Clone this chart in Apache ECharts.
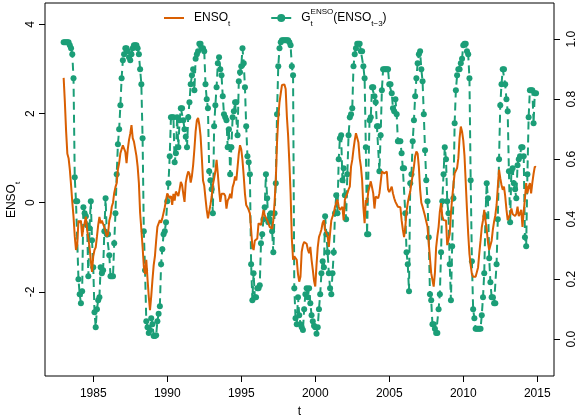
<!DOCTYPE html>
<html>
<head>
<meta charset="utf-8">
<script src="https://cdn.jsdelivr.net/npm/echarts@6/dist/echarts.min.js"></script>
<style>
  html, body { margin: 0; padding: 0; background: #fff; }
  #chart { width: 579px; height: 419px; }
</style>
</head>
<body>
<div id="chart"></div>
<script>
// monthly values, Jan 1983 .. Dec 2014
const startYear = 1983;

// ENSO_t
const enso_1983_1990 = [
  2.80, 2.25, 1.60, 1.10, 1.00, 0.75, 0.40, 0.02, -0.31, -0.75, -1.06, -0.95,
  -0.40, -0.45, -0.40, -0.76, -0.55, -0.46, -0.31, -0.60, -0.80, -1.00, -1.30, -1.55,
  -1.20, -1.06, -1.00, -0.76, -0.50, -0.32, -0.46, -0.40, -0.40, -0.55, -0.65, -0.76,
  -0.70, -0.40, -0.30, -0.09, 0.00, 0.22, 0.35, 0.44, 0.75, 0.89, 1.11, 1.20,
  1.29, 1.25, 1.14, 0.89, 1.20, 1.41, 1.55, 1.74, 1.45, 1.37, 1.33, 1.05,
  0.81, 0.44, -0.23, -0.60, -0.99, -1.43, -1.60, -1.28, -1.71, -2.10, -2.41, -2.10,
  -1.73, -1.40, -1.20, -0.85, -0.54, -0.50, -0.39, -0.45, -0.35, -0.32, -0.10, 0.06,
  0.21, 0.25, 0.10, 0.15, -0.05, 0.20, 0.05, 0.25, 0.20, 0.15, 0.30, 0.47
];
const enso_1991_1998 = [
  0.40, 0.20, 0.02, 0.45, 0.60, 0.70, 0.65, 0.45, 0.60, 0.85, 1.20, 1.60,
  1.85, 1.90, 1.75, 1.50, 1.03, 0.50, 0.38, 0.10, -0.16, -0.35, -0.20, -0.05,
  0.14, 0.40, 0.55, 0.70, 0.96, 0.65, 0.30, 0.02, 0.20, 0.20, 0.20, 0.15,
  -0.13, 0.05, 0.10, 0.20, 0.10, 0.35, 0.44, 0.59, 0.50, 0.80, 1.10, 1.29,
  1.20, 0.95, 0.60, 0.20, -0.05, -0.10, -0.16, -0.24, -0.60, -0.99, -1.06, -0.85,
  -0.85, -0.80, -0.46, -0.42, -0.50, -0.54, -0.16, -0.28, -0.30, -0.39, -0.46, -0.54,
  -0.56, -0.58, -0.39, 0.00, 0.50, 1.35, 1.90, 2.25, 2.45, 2.64, 2.68, 2.65,
  2.55, 1.93, 1.50, 0.90, 0.20, -0.80, -1.28, -1.20, -1.22, -1.28, -1.60, -1.77
];
const enso_1999_2006 = [
  -1.66, -1.10, -0.95, -0.88, -0.88, -0.92, -1.05, -1.13, -0.99, -1.28, -1.50, -1.75,
  -1.88, -1.40, -1.00, -0.77, -0.69, -0.60, -0.45, -0.39, -0.62, -0.66, -0.75, -0.99,
  -0.69, -0.40, -0.31, -0.24, -0.09, 0.00, 0.07, -0.09, -0.16, -0.12, -0.09, -0.39,
  0.07, 0.15, 0.21, 0.30, 0.36, 0.81, 0.96, 1.20, 1.40, 1.56, 1.60, 1.35,
  1.00, 0.81, 0.51, -0.10, -0.46, 0.06, 0.00, 0.25, 0.36, 0.48, 0.35, 0.21,
  -0.13, 0.14, 0.14, 0.10, 0.21, 0.45, 0.70, 0.74, 0.66, 0.66, 0.70, 0.30,
  0.24, 0.28, 0.36, 0.21, 0.10, 0.02, 0.06, -0.09, -0.05, -0.10, -0.39, -0.60,
  -0.77, -0.54, -0.20, 0.00, 0.14, 0.25, 0.45, 0.62, 0.81, 1.05, 1.15, 1.10
];
const enso_2007_2014 = [
  0.80, 0.30, 0.00, -0.09, -0.13, -0.30, -0.42, -0.54, -0.90, -1.25, -1.58, -1.60,
  -1.88, -1.58, -1.00, -0.75, -0.54, -0.20, -0.01, -0.30, -0.39, -0.42, -0.40, -0.95,
  -0.95, -0.70, -0.23, 0.10, 0.40, 0.66, 0.70, 0.78, 1.00, 1.45, 1.71, 1.60,
  1.40, 1.05, 0.45, -0.15, -0.70, -1.15, -1.40, -1.60, -1.66, -1.64, -1.66, -1.62,
  -1.45, -1.13, -0.85, -0.55, -0.39, -0.16, -0.40, -0.60, -0.88, -1.06, -1.06, -0.85,
  -0.60, -0.42, -0.28, -0.05, 0.35, 0.74, 0.55, 0.40, 0.29, 0.36, 0.15, -0.15,
  -0.39, -0.39, -0.25, -0.13, -0.25, -0.28, -0.30, -0.25, -0.09, -0.30, -0.25, -0.16,
  -0.54, -0.20, 0.10, 0.44, 0.21, 0.35, 0.44, 0.21, 0.45, 0.65, 0.81, 0.80
];

// G_t^ENSO(ENSO_{t-3})
const g_1983_1990 = [
  0.99, 0.99, 0.99, 0.99, 0.99, 0.98, 0.97, 0.95, 0.87, 0.54, 0.46, 0.46,
  0.20, 0.15, 0.12, 0.16, 0.44, 0.42, 0.41, 0.38, 0.21, 0.37, 0.46, 0.33,
  0.24, 0.09, 0.04, 0.10, 0.13, 0.14, 0.24, 0.22, 0.23, 0.36, 0.47, 0.35,
  0.35, 0.28, 0.21, 0.21, 0.21, 0.32, 0.42, 0.55, 0.65, 0.70, 0.78, 0.87,
  0.93, 0.95, 0.97, 0.97, 0.96, 0.94, 0.93, 0.95, 0.97, 0.98, 0.98, 0.98,
  0.97, 0.95, 0.90, 0.85, 0.67, 0.36, 0.23, 0.06, 0.04, 0.02, 0.03, 0.07,
  0.05, 0.01, 0.01, 0.013, 0.06, 0.085, 0.11, 0.25, 0.30, 0.35, 0.36, 0.39,
  0.46, 0.52, 0.61, 0.74, 0.74, 0.74, 0.59, 0.62, 0.74, 0.64, 0.73, 0.77
];
const g_1991_1998 = [
  0.77, 0.73, 0.70, 0.675, 0.64, 0.74, 0.79, 0.85, 0.88, 0.90, 0.83, 0.935,
  0.95, 0.96, 0.985, 0.985, 0.97, 0.97, 0.96, 0.85, 0.80, 0.77, 0.56, 0.53,
  0.50, 0.42, 0.71, 0.78, 0.84, 0.92, 0.94, 0.90, 0.88, 0.81, 0.75, 0.74,
  0.73, 0.64, 0.70, 0.55, 0.64, 0.74, 0.76, 0.79, 0.79, 0.68, 0.86, 0.89,
  0.91, 0.97, 0.92, 0.84, 0.71, 0.61, 0.59, 0.55, 0.25, 0.13, 0.22, 0.14,
  0.14, 0.17, 0.17, 0.18, 0.32, 0.35, 0.40, 0.44, 0.55, 0.47, 0.39, 0.40,
  0.42, 0.36, 0.29, 0.42, 0.52, 0.75, 0.91, 0.97, 0.99, 0.997, 0.997, 0.997,
  0.997, 0.997, 0.997, 0.99, 0.98, 0.91, 0.88, 0.17, 0.07, 0.05, 0.14, 0.08
];
const g_1999_2006 = [
  0.05, 0.04, 0.03, 0.10, 0.15, 0.17, 0.14, 0.17, 0.12, 0.08, 0.06, 0.045,
  0.04, 0.018, 0.04, 0.10, 0.15, 0.22, 0.26, 0.24, 0.41, 0.35, 0.29, 0.22,
  0.17, 0.15, 0.22, 0.29, 0.42, 0.48, 0.42, 0.60, 0.67, 0.68, 0.53, 0.57,
  0.48, 0.40, 0.55, 0.68, 0.74, 0.75, 0.77, 0.91, 0.95, 0.97, 0.985, 0.985,
  0.985, 0.96, 0.96, 0.91, 0.87, 0.64, 0.35, 0.35, 0.73, 0.74, 0.84, 0.84,
  0.81, 0.79, 0.71, 0.71, 0.56, 0.68, 0.83, 0.90, 0.90, 0.90, 0.90, 0.90,
  0.85, 0.85, 0.82, 0.77, 0.76, 0.80, 0.75, 0.66, 0.66, 0.66, 0.62, 0.57,
  0.57, 0.42, 0.29, 0.25, 0.16, 0.52, 0.55, 0.66, 0.73, 0.81, 0.87, 0.92
];
const g_2007_2014 = [
  0.95, 0.96, 0.90, 0.86, 0.75, 0.63, 0.53, 0.46, 0.34, 0.15, 0.13, 0.05,
  0.05, 0.035, 0.02, 0.02, 0.10, 0.15, 0.29, 0.46, 0.55, 0.64, 0.60, 0.46,
  0.42, 0.25, 0.13, 0.31, 0.47, 0.72, 0.83, 0.88, 0.90, 0.90, 0.92, 0.935,
  0.98, 0.985, 0.985, 0.96, 0.95, 0.87, 0.53, 0.26, 0.10, 0.07, 0.035, 0.035,
  0.035, 0.035, 0.035, 0.08, 0.14, 0.22, 0.41, 0.52, 0.47, 0.27, 0.19, 0.14,
  0.14, 0.12, 0.12, 0.25, 0.40, 0.60, 0.78, 0.85, 0.90, 0.90, 0.85, 0.80,
  0.76, 0.56, 0.39, 0.56, 0.57, 0.52, 0.50, 0.47, 0.58, 0.60, 0.61, 0.64,
  0.64, 0.61, 0.34, 0.31, 0.55, 0.74, 0.83, 0.83, 0.83, 0.72, 0.82, 0.82
];

const yearTicks = [1985, 1990, 1995, 2000, 2005, 2010, 2015];
const ensoTicks = [-2, 0, 2, 4];
const gTicks = [0, 0.2, 0.4, 0.6, 0.8, 1.0];

const ensoVals = [].concat(enso_1983_1990, enso_1991_1998, enso_1999_2006, enso_2007_2014);
const gVals = [].concat(g_1983_1990, g_1991_1998, g_1999_2006, g_2007_2014);

function toPairs(vals) {
  return vals.map((v, i) => [startYear + i / 12, v]);
}

const FONT = '"Liberation Sans", Arial, Helvetica, sans-serif';
const ORANGE = '#D95F02';
const GREEN = '#1B9E77';

const rich = {
  m: { fontFamily: FONT, fontSize: 12, lineHeight: 20, color: '#000' },
  sub: { fontFamily: FONT, fontSize: 8, lineHeight: 9, verticalAlign: 'bottom', color: '#000' },
  sup: { fontFamily: FONT, fontSize: 8, lineHeight: 9, verticalAlign: 'top', color: '#000' },
  z: { fontFamily: FONT, fontSize: 8, lineHeight: 9, verticalAlign: 'bottom', width: 0, color: '#000' }
};

const chart = echarts.init(document.getElementById('chart'));

const tickStyle = { show: true, inside: false, length: 6, lineStyle: { color: '#000', width: 1 } };
const labelBase = { fontFamily: FONT, fontSize: 12, color: '#000' };

chart.setOption({
  animation: false,
  backgroundColor: '#fff',
  grid: {
    left: 45, right: 25, top: 3, bottom: 43,
    outerBoundsMode: 'none',
    containLabel: false,
    show: true, borderColor: '#000', borderWidth: 1, backgroundColor: 'transparent'
  },
  // y axis title, rotated like R's ylab
  graphic: [{
    type: 'text',
    x: 12, y: 200,
    rotation: Math.PI / 2,
    style: { text: '{m|ENSO}{sub|t}', rich: rich, align: 'center', verticalAlign: 'middle' }
  }],
  legend: {
    data: [
      { name: 'ENSO', itemStyle: { opacity: 0 } },
      { name: 'G' }
    ],
    left: 163, top: 8,
    padding: 0,
    itemWidth: 20, itemHeight: 10,
    itemGap: 40,
    textStyle: { fontFamily: FONT, fontSize: 12, color: '#000', padding: [0, 0, 0, 5], rich: rich },
    formatter: function (name) {
      return name === 'ENSO'
        ? '{m|ENSO}{sub|t}'
        : '{m|G}{z|t}{sup|ENSO}{m|(ENSO}{sub|t\u22123}{m|)}';
    }
  },
  xAxis: {
    type: 'value',
    min: 1981.74, max: 2016.13,
    name: 't', nameLocation: 'middle', nameGap: 30,
    nameTextStyle: { fontFamily: FONT, fontSize: 12, color: '#000' },
    axisLine: { show: false, onZero: false },
    splitLine: { show: false },
    axisTick: Object.assign({ customValues: yearTicks }, tickStyle),
    axisLabel: Object.assign({ customValues: yearTicks, margin: 12, formatter: v => String(v) }, labelBase)
  },
  yAxis: [
    {
      type: 'value',
      min: -3.886, max: 4.48,
      axisLine: { show: false, onZero: false },
      splitLine: { show: false },
      axisTick: Object.assign({ customValues: ensoTicks }, tickStyle),
      axisLabel: Object.assign({ customValues: ensoTicks, rotate: 90, margin: 8, formatter: v => String(v) }, labelBase)
    },
    {
      type: 'value',
      position: 'right',
      min: -0.123, max: 1.121,
      axisLine: { show: false, onZero: false },
      splitLine: { show: false },
      axisTick: Object.assign({ customValues: gTicks }, tickStyle),
      axisLabel: Object.assign({ customValues: gTicks, rotate: 90, margin: 12, formatter: v => v.toFixed(1) }, labelBase)
    }
  ],
  series: [
    {
      name: 'G',
      type: 'line',
      yAxisIndex: 1,
      data: toPairs(gVals),
      symbol: 'circle',
      symbolSize: 6,
      showSymbol: true,
      showAllSymbol: true,
      itemStyle: { color: GREEN },
      lineStyle: { color: GREEN, width: 2, type: [8, 5] },
      z: 2
    },
    {
      name: 'ENSO',
      type: 'line',
      yAxisIndex: 0,
      data: toPairs(ensoVals),
      symbol: 'none',
      showSymbol: false,
      itemStyle: { color: ORANGE },
      lineStyle: { color: ORANGE, width: 2 },
      z: 3
    }
  ]
});
</script>
</body>
</html>
